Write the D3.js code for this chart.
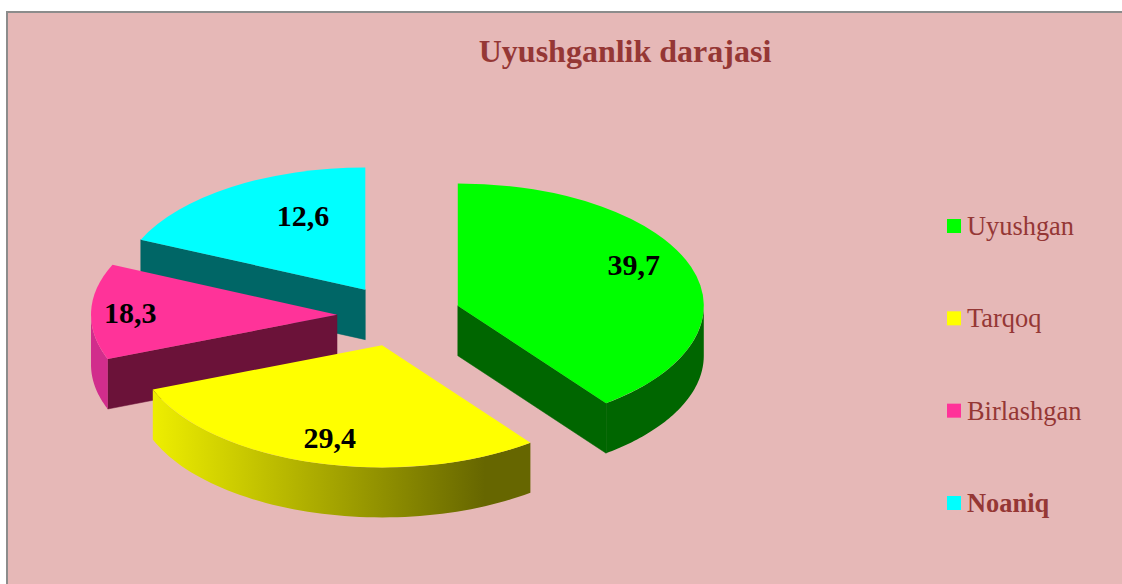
<!DOCTYPE html>
<html>
<head>
<meta charset="utf-8">
<script src="https://cdn.jsdelivr.net/npm/d3@7"></script>
<style>
    html, body { margin: 0; padding: 0; background: white; overflow: hidden; }
    text { font-family: "Liberation Serif", serif; }
</style>
</head>
<body>
<div id="chart"></div>
<script>

// DATA
const categories = ["Uyushgan", "Tarqoq", "Birlashgan", "Noaniq"];
// slice sizes as they are drawn in the picture (pink is the smaller one, cyan the larger)
const sliceShares = [39.7, 29.4, 12.6, 18.3];
// printed labels, the reference swaps the last two against the slice sizes
const sliceLabels = ["39,7", "29,4", "18,3", "12,6"];
const chartTitle = "Uyushganlik darajasi";


//1. SVG CANVAS

const width = 1122;
const height = 584;

const svg = d3.select("#chart")
    .append("svg")
    .attr("width", width)
    .attr("height", height)
    .style("display", "block");

svg.append("rect")
    .attr("x", 7)
    .attr("y", 12)
    .attr("width", 1300)
    .attr("height", 800)
    .attr("fill", "#e6b8b7")
    .attr("stroke", "#8c8c8c")
    .attr("stroke-width", 2);


//2. PIE LAYOUT

const topColors = ["#00ff00", "#ffff00", "#ff3399", "#00ffff"];
const edgeColors = ["#006600", "#666600", "#6b1239", "#006666"];
const rimColors = ["#006600", "url(#yellowRim)", "#d12d8c", "#006666"];

const cx = 399;
const cy = 315.5;
const radius = 246;
const tilt = 0.497;
const explode = 62;
const depth = 50;

// fine placement of the value labels around their default spot
const labelNudge = [[-6, -10], [0, 1], [-15, 1], [42, 6]];

const pie = d3.pie().sort(null).value(d => d);
const slices = pie(sliceShares).map(function(s, i) {
    const mid = (s.startAngle + s.endAngle) / 2;
    return {
        i: i,
        start: s.startAngle,
        end: s.endAngle,
        mid: mid,
        x: cx + explode * Math.sin(mid),
        y: cy - explode * Math.cos(mid) * tilt
    };
});

function rimPoint(s, a, dy) {
    return [s.x + radius * Math.sin(a), s.y - radius * Math.cos(a) * tilt + dy];
}

const line = d3.line();
const arc = d3.arc().innerRadius(0).outerRadius(radius);

const defs = svg.append("defs");
const grad = defs.append("linearGradient").attr("id", "yellowRim");
grad.append("stop").attr("offset", "0%").attr("stop-color", "#eeee00");
grad.append("stop").attr("offset", "88%").attr("stop-color", "#666600");
grad.append("stop").attr("offset", "100%").attr("stop-color", "#666600");


//3. DRAW SLICES, back to front

const drawOrder = [3, 0, 2, 1];

drawOrder.forEach(function(k) {
    const s = slices[k];
    const g = svg.append("g");

    // side cut of the slice, only the one facing the viewer
    const edge = Math.sin(s.start) < -1e-6 ? s.start : (Math.sin(s.end) > 1e-6 ? s.end : null);
    if (edge !== null) {
        const p = rimPoint(s, edge, 0);
        g.append("path")
            .attr("d", line([[s.x, s.y], p, [p[0], p[1] + depth], [s.x, s.y + depth]]) + "Z")
            .attr("fill", edgeColors[k])
            .attr("stroke", edgeColors[k])
            .attr("stroke-width", 0.5);
    }

    // outer rim, front half of the ellipse
    const a0 = Math.max(s.start, Math.PI / 2);
    const a1 = Math.min(s.end, Math.PI * 1.5);
    if (a1 > a0) {
        const angles = d3.range(0, 61).map(n => a0 + (a1 - a0) * n / 60);
        const upper = angles.map(a => rimPoint(s, a, 0));
        const lower = angles.slice().reverse().map(a => rimPoint(s, a, depth));
        g.append("path")
            .attr("d", line(upper.concat(lower)) + "Z")
            .attr("fill", rimColors[k]);
    }

    // top face
    g.append("path")
        .attr("transform", `translate(${s.x},${s.y}) scale(1,${tilt})`)
        .attr("d", arc({ startAngle: s.start, endAngle: s.end }))
        .attr("fill", topColors[k]);
});


//4. VALUE LABELS

svg.selectAll(".valueLabel")
    .data(slices)
    .enter()
    .append("text")
    .attr("class", "valueLabel")
    .attr("x", d => rimPoint(d, d.mid, 0)[0] * 0.78 + d.x * 0.22 + labelNudge[d.i][0])
    .attr("y", d => rimPoint(d, d.mid, 0)[1] * 0.78 + d.y * 0.22 + labelNudge[d.i][1] + 10)
    .attr("text-anchor", "middle")
    .attr("font-size", 30)
    .attr("font-weight", "bold")
    .attr("fill", "black")
    .text(d => sliceLabels[d.i]);


//5. TITLE

svg.append("text")
    .attr("x", 625)
    .attr("y", 62)
    .attr("text-anchor", "middle")
    .attr("font-size", 32)
    .attr("font-weight", "bold")
    .attr("fill", "#953735")
    .text(chartTitle);


//6. LEGEND

const legendScale = d3.scalePoint()
    .domain(categories)
    .range([226, 503]);

const legend = svg.selectAll(".legendItem")
    .data(categories)
    .enter()
    .append("g")
    .attr("class", "legendItem")
    .attr("transform", d => `translate(947,${legendScale(d)})`);

legend.append("rect")
    .attr("x", 0)
    .attr("y", -7)
    .attr("width", 14)
    .attr("height", 14)
    .attr("fill", (d, i) => topColors[i]);

legend.append("text")
    .attr("x", 20)
    .attr("y", 9)
    .attr("font-size", 26.4)
    .attr("font-weight", (d, i) => i === 3 ? "bold" : "normal")
    .attr("fill", "#953735")
    .text(d => d);

</script>
</body>
</html>
